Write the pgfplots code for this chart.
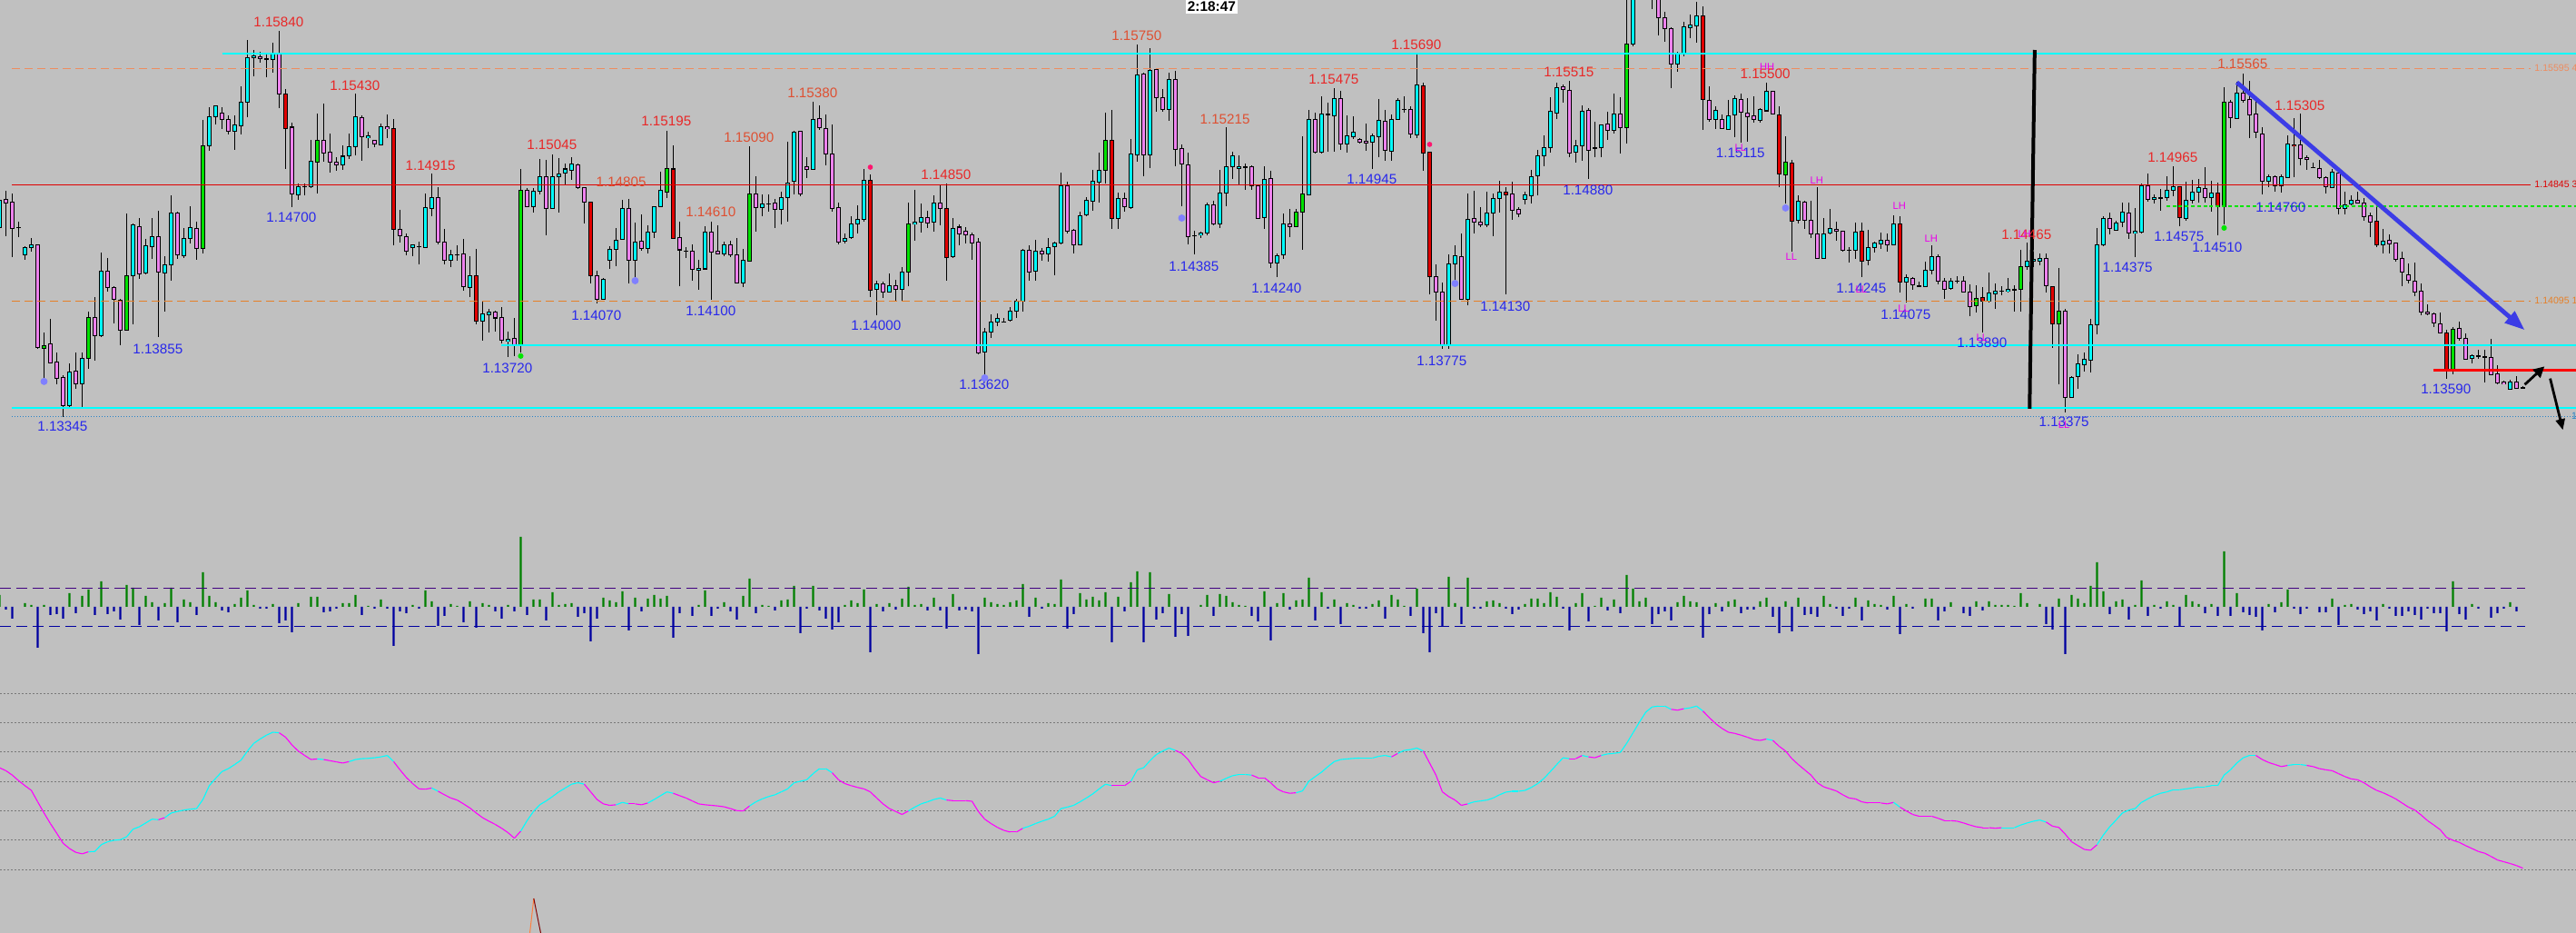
\documentclass[border=0pt]{standalone}
\usepackage{pgfplots}
\pgfplotsset{compat=1.18}
\usepackage{pgfplotstable}
\usepackage{fontspec}
\setmainfont{Liberation Sans}
\usetikzlibrary{arrows.meta}

\definecolor{bg}{RGB}{192,192,192}
\definecolor{cbull}{RGB}{0,255,255}
\definecolor{cbear}{RGB}{238,130,238}
\definecolor{cgreen}{RGB}{0,225,0}
\definecolor{cred}{RGB}{225,0,0}
\definecolor{lvlcyan}{RGB}{0,255,255}
\definecolor{lvlorange}{RGB}{238,140,95}
\definecolor{lvlorange2}{RGB}{230,128,40}
\definecolor{lvlred}{RGB}{222,0,0}
\definecolor{dotblue}{RGB}{40,130,200}
\definecolor{hgreen}{RGB}{0,128,0}
\definecolor{hblue}{RGB}{0,0,160}
\definecolor{hpurple}{RGB}{64,0,128}
\definecolor{labred}{RGB}{232,40,40}
\definecolor{laborange}{RGB}{222,80,50}
\definecolor{labblue}{RGB}{40,40,235}
\definecolor{labmag}{RGB}{235,0,235}
\definecolor{arrblue}{RGB}{60,60,230}
\definecolor{dotviolet}{RGB}{128,128,255}
\definecolor{dotpink}{RGB}{255,20,110}
\definecolor{dotgreen}{RGB}{0,230,0}
\definecolor{gridgray}{RGB}{120,120,120}
\definecolor{oscmag}{RGB}{255,0,255}
\definecolor{osccyan}{RGB}{0,255,255}
\definecolor{spkorange}{RGB}{255,128,64}
\definecolor{spkred}{RGB}{128,0,0}
\pgfplotsset{colormap={ud}{color(0)=(oscmag) color(1)=(osccyan)}}

\newcommand{\labfont}{\fontsize{7.6}{8}\selectfont}
\newcommand{\magfont}{\fontsize{5.6}{6}\selectfont}
\newcommand{\rfont}{\fontsize{5.3}{6}\selectfont}

% candles: index, open, high, low, close, special (1 = signal bar)
\pgfplotstableread{
i o h l c s
-1 1.14571 1.14802 1.14567 1.14747 0
0 1.14751 1.14806 1.14513 1.14727 0
1 1.14733 1.14790 1.14376 1.14565 0
2 1.14571 1.14606 1.14509 1.14568 0
3 1.14390 1.14450 1.14364 1.14440 0
4 1.14440 1.14503 1.14415 1.14458 0
5 1.14458 1.14462 1.13786 1.13796 0
6 1.13790 1.13892 1.13595 1.13810 1
7 1.13819 1.13979 1.13692 1.13696 0
8 1.13702 1.13761 1.13560 1.13599 0
9 1.13599 1.13620 1.13351 1.13419 0
10 1.13419 1.13692 1.13413 1.13638 0
11 1.13644 1.13765 1.13532 1.13560 0
12 1.13560 1.13761 1.13413 1.13726 0
13 1.13726 1.14028 1.13657 1.13989 1
14 1.13989 1.14122 1.13712 1.13872 0
15 1.13872 1.14405 1.13862 1.14288 0
16 1.14288 1.14370 1.14155 1.14185 0
17 1.14185 1.14191 1.13950 1.14106 0
18 1.14102 1.14112 1.13813 1.13907 0
19 1.13907 1.14659 1.13903 1.14259 1
20 1.14259 1.14595 1.13946 1.14585 0
21 1.14575 1.14630 1.14239 1.14272 0
22 1.14278 1.14493 1.14268 1.14450 0
23 1.14444 1.14634 1.14366 1.14513 0
24 1.14513 1.14675 1.13862 1.14282 0
25 1.14278 1.14386 1.14028 1.14331 0
26 1.14331 1.14780 1.14229 1.14663 0
27 1.14663 1.14673 1.14366 1.14395 0
28 1.14390 1.14565 1.14370 1.14499 0
29 1.14499 1.14708 1.14464 1.14571 0
30 1.14565 1.14610 1.14362 1.14435 0
31 1.14435 1.15261 1.14399 1.15095 1
32 1.15099 1.15343 1.15065 1.15284 0
33 1.15284 1.15355 1.15235 1.15352 0
34 1.15308 1.15343 1.15206 1.15268 0
35 1.15268 1.15290 1.15167 1.15192 0
36 1.15190 1.15294 1.15073 1.15235 0
37 1.15226 1.15479 1.15167 1.15378 0
38 1.15378 1.15778 1.15280 1.15665 0
39 1.15665 1.15714 1.15548 1.15679 0
40 1.15671 1.15700 1.15630 1.15661 0
41 1.15659 1.15700 1.15542 1.15657 0
42 1.15653 1.15763 1.15571 1.15688 0
43 1.15688 1.15840 1.15337 1.15431 0
44 1.15431 1.15464 1.14948 1.15206 1
45 1.15216 1.15245 1.14702 1.14786 0
46 1.14780 1.14854 1.14747 1.14835 0
47 1.14835 1.14854 1.14776 1.14833 0
48 1.14831 1.15134 1.14825 1.14997 0
49 1.14991 1.15304 1.14792 1.15132 1
50 1.15132 1.15366 1.14991 1.15050 0
51 1.15056 1.15177 1.14923 1.14991 0
52 1.14991 1.15020 1.14933 1.14972 0
53 1.14977 1.15099 1.14942 1.15030 0
54 1.15030 1.15177 1.15011 1.15089 0
55 1.15089 1.15431 1.15036 1.15284 0
56 1.15280 1.15294 1.15001 1.15155 0
57 1.15147 1.15190 1.15083 1.15161 0
58 1.15132 1.15138 1.15089 1.15108 0
59 1.15102 1.15239 1.15102 1.15220 0
60 1.15220 1.15298 1.15147 1.15206 0
61 1.15206 1.15268 1.14458 1.14558 1
62 1.14558 1.14683 1.14474 1.14513 0
63 1.14513 1.14532 1.14392 1.14419 0
64 1.14440 1.14464 1.14386 1.14458 0
65 1.14448 1.14479 1.14333 1.14446 0
66 1.14440 1.14786 1.14435 1.14698 0
67 1.14692 1.14919 1.14645 1.14763 0
68 1.14763 1.14829 1.14464 1.14474 0
69 1.14474 1.14558 1.14333 1.14360 0
70 1.14360 1.14425 1.14317 1.14392 0
71 1.14395 1.14458 1.14356 1.14393 0
72 1.14399 1.14499 1.14165 1.14190 0
73 1.14185 1.14386 1.14122 1.14259 0
74 1.14259 1.14431 1.13946 1.13966 1
75 1.13966 1.14093 1.13839 1.14011 0
76 1.14009 1.14044 1.13892 1.14024 0
77 1.14024 1.14034 1.13897 1.13985 0
78 1.13989 1.14060 1.13823 1.13843 0
79 1.13835 1.13897 1.13731 1.13849 0
80 1.13853 1.13985 1.13741 1.13813 0
81 1.13813 1.14946 1.13767 1.14810 1
82 1.14810 1.14825 1.14698 1.14704 0
83 1.14704 1.14825 1.14669 1.14802 0
84 1.14802 1.15011 1.14786 1.14897 0
85 1.14897 1.15005 1.14522 1.14692 0
86 1.14692 1.15044 1.14688 1.14897 0
87 1.14897 1.15017 1.14669 1.14913 0
88 1.14919 1.14981 1.14849 1.14948 0
89 1.14938 1.15024 1.14880 1.14977 0
90 1.14972 1.14981 1.14821 1.14825 0
91 1.14825 1.14829 1.14597 1.14733 0
92 1.14733 1.14735 1.14210 1.14259 1
93 1.14259 1.14288 1.14077 1.14106 0
94 1.14106 1.14243 1.14102 1.14235 0
95 1.14360 1.14450 1.14302 1.14429 0
96 1.14429 1.14567 1.14321 1.14487 0
97 1.14493 1.14751 1.14493 1.14692 0
98 1.14692 1.14753 1.14206 1.14360 0
99 1.14360 1.14601 1.14235 1.14479 0
100 1.14479 1.14653 1.14419 1.14435 0
101 1.14435 1.14581 1.14399 1.14542 0
102 1.14542 1.14708 1.14503 1.14702 0
103 1.14702 1.14929 1.14698 1.14810 0
104 1.14800 1.15196 1.14763 1.14948 1
105 1.14948 1.15099 1.14499 1.14501 1
106 1.14503 1.14604 1.14190 1.14425 0
107 1.14419 1.14444 1.14376 1.14417 0
108 1.14415 1.14458 1.14229 1.14298 0
109 1.14294 1.14360 1.14165 1.14308 0
110 1.14302 1.14577 1.14298 1.14538 0
111 1.14542 1.14610 1.14106 1.14411 0
112 1.14419 1.14587 1.14395 1.14401 0
113 1.14399 1.14477 1.14386 1.14458 0
114 1.14458 1.14487 1.14380 1.14395 0
115 1.14392 1.14503 1.14210 1.14214 0
116 1.14210 1.14431 1.14185 1.14356 0
117 1.14352 1.15093 1.14347 1.14786 1
118 1.14786 1.14899 1.14542 1.14698 0
119 1.14698 1.14782 1.14643 1.14722 0
120 1.14724 1.14780 1.14673 1.14722 0
121 1.14727 1.14757 1.14567 1.14688 0
122 1.14688 1.14800 1.14587 1.14763 0
123 1.14763 1.15122 1.14606 1.14860 0
124 1.14868 1.15196 1.14786 1.15186 0
125 1.15190 1.15192 1.14770 1.14786 0
126 1.14962 1.15020 1.14888 1.14946 0
127 1.14942 1.15378 1.14942 1.15268 0
128 1.15274 1.15356 1.15196 1.15216 0
129 1.15210 1.15298 1.14972 1.15044 0
130 1.15044 1.15235 1.14673 1.14692 0
131 1.14698 1.14731 1.14458 1.14477 0
132 1.14479 1.14528 1.14464 1.14499 0
133 1.14503 1.14645 1.14499 1.14591 0
134 1.14591 1.14712 1.14532 1.14624 0
135 1.14624 1.14946 1.14610 1.14874 0
136 1.14874 1.14913 1.14122 1.14165 1
137 1.14171 1.14224 1.14005 1.14206 0
138 1.14206 1.14220 1.14116 1.14155 0
139 1.14155 1.14272 1.14151 1.14194 0
140 1.14194 1.14229 1.14089 1.14171 0
141 1.14171 1.14317 1.14093 1.14282 0
142 1.14282 1.14731 1.14190 1.14591 1
143 1.14591 1.14811 1.14483 1.14604 0
144 1.14604 1.14727 1.14536 1.14634 0
145 1.14634 1.14679 1.14567 1.14601 0
146 1.14601 1.14776 1.14542 1.14727 0
147 1.14727 1.14845 1.14581 1.14692 0
148 1.14692 1.14854 1.14224 1.14376 1
149 1.14380 1.14630 1.14376 1.14561 0
150 1.14571 1.14591 1.14458 1.14528 0
151 1.14546 1.14571 1.14468 1.14522 0
152 1.14522 1.14536 1.14362 1.14470 0
153 1.14474 1.14503 1.13755 1.13761 0
154 1.13767 1.13921 1.13614 1.13897 0
155 1.13897 1.14009 1.13858 1.13960 0
156 1.13960 1.14015 1.13931 1.13985 0
157 1.13962 1.13985 1.13956 1.13960 0
158 1.13970 1.14054 1.13962 1.14028 0
159 1.14028 1.14112 1.13985 1.14093 0
160 1.14093 1.14431 1.14028 1.14425 0
161 1.14425 1.14458 1.14224 1.14282 0
162 1.14288 1.14493 1.14229 1.14419 0
163 1.14419 1.14438 1.14356 1.14399 0
164 1.14399 1.14503 1.14347 1.14438 0
165 1.14444 1.14479 1.14263 1.14470 0
166 1.14470 1.14927 1.14464 1.14841 0
167 1.14841 1.14868 1.14532 1.14546 0
168 1.14552 1.14561 1.14405 1.14458 0
169 1.14458 1.14669 1.14454 1.14649 0
170 1.14649 1.14767 1.14640 1.14747 0
171 1.14741 1.14942 1.14679 1.14868 0
172 1.14864 1.15050 1.14731 1.14936 0
173 1.14936 1.15308 1.14854 1.15132 1
174 1.15132 1.15327 1.14561 1.14630 1
175 1.14630 1.14796 1.14561 1.14757 0
176 1.14757 1.14796 1.14669 1.14702 0
177 1.14698 1.15143 1.14688 1.15044 0
178 1.15040 1.15749 1.14995 1.15552 0
179 1.15561 1.15567 1.14903 1.15040 0
180 1.15040 1.15724 1.14952 1.15581 0
181 1.15587 1.15597 1.15317 1.15407 0
182 1.15407 1.15466 1.15317 1.15329 0
183 1.15333 1.15567 1.15259 1.15524 0
184 1.15524 1.15577 1.14962 1.15073 0
185 1.15079 1.15102 1.14708 1.14981 0
186 1.14972 1.15050 1.14458 1.14513 0
187 1.14517 1.14548 1.14395 1.14515 0
188 1.14522 1.14542 1.14503 1.14532 0
189 1.14532 1.14731 1.14522 1.14714 0
190 1.14714 1.14743 1.14587 1.14591 0
191 1.14591 1.14942 1.14567 1.14792 0
192 1.14792 1.15216 1.14708 1.14962 0
193 1.14962 1.15059 1.14880 1.15030 0
194 1.14952 1.15036 1.14841 1.14962 0
195 1.14962 1.14981 1.14815 1.14960 0
196 1.14962 1.14968 1.14810 1.14841 0
197 1.14841 1.14843 1.14626 1.14630 0
198 1.14634 1.14966 1.14561 1.14880 0
199 1.14884 1.14938 1.14311 1.14341 0
200 1.14341 1.14405 1.14249 1.14390 0
201 1.14395 1.14659 1.14366 1.14591 0
202 1.14591 1.14692 1.14509 1.14575 0
203 1.14575 1.14692 1.14571 1.14669 1
204 1.14669 1.15157 1.14425 1.14786 1
205 1.14780 1.15327 1.14776 1.15265 0
206 1.15265 1.15308 1.15046 1.15054 0
207 1.15056 1.15415 1.15050 1.15300 0
208 1.15298 1.15376 1.15059 1.15296 0
209 1.15290 1.15470 1.15059 1.15401 0
210 1.15401 1.15450 1.15069 1.15108 0
211 1.15108 1.15294 1.15050 1.15161 0
212 1.15157 1.15288 1.15142 1.15181 0
213 1.15138 1.15147 1.15114 1.15118 0
214 1.15128 1.15239 1.15065 1.15114 0
215 1.15122 1.15177 1.14948 1.15161 0
216 1.15157 1.15401 1.15024 1.15261 0
217 1.15255 1.15329 1.14997 1.15069 0
218 1.15063 1.15298 1.15001 1.15268 0
219 1.15265 1.15405 1.15265 1.15392 0
220 1.15333 1.15415 1.15309 1.15331 0
221 1.15333 1.15352 1.15147 1.15173 0
222 1.15167 1.15688 1.15147 1.15489 0
223 1.15483 1.15503 1.14933 1.15050 1
224 1.15054 1.15059 1.14136 1.14253 1
225 1.14253 1.14331 1.13966 1.14155 0
226 1.14151 1.14214 1.13786 1.13815 0
227 1.13815 1.14399 1.13790 1.14333 0
228 1.14333 1.14458 1.14210 1.14386 0
229 1.14380 1.14532 1.14102 1.14106 0
230 1.14106 1.14786 1.14067 1.14620 0
231 1.14626 1.14806 1.14528 1.14604 0
232 1.14604 1.14702 1.14571 1.14587 0
233 1.14587 1.14802 1.14571 1.14663 0
234 1.14663 1.14792 1.14513 1.14757 0
235 1.14757 1.14874 1.14669 1.14800 0
236 1.14800 1.14829 1.14138 1.14782 1
237 1.14786 1.14864 1.14620 1.14683 0
238 1.14685 1.14704 1.14634 1.14655 0
239 1.14751 1.14802 1.14718 1.14780 0
240 1.14776 1.14942 1.14727 1.14897 0
241 1.14903 1.15073 1.14776 1.15030 0
242 1.15030 1.15163 1.14962 1.15083 0
243 1.15083 1.15407 1.15050 1.15319 0
244 1.15309 1.15505 1.15270 1.15470 0
245 1.15479 1.15489 1.15372 1.15460 0
246 1.15454 1.15513 1.15024 1.15050 0
247 1.15056 1.15138 1.14991 1.15099 0
248 1.15099 1.15356 1.15001 1.15319 0
249 1.15323 1.15343 1.14884 1.15069 0
250 1.15083 1.15251 1.15024 1.15081 0
251 1.15083 1.15235 1.15024 1.15231 0
252 1.15235 1.15317 1.15134 1.15196 0
253 1.15196 1.15431 1.15173 1.15300 0
254 1.15300 1.15407 1.15044 1.15216 0
255 1.15216 1.16080 1.15114 1.15753 1
256 1.15753 1.16170 1.15740 1.16120 0
257 1.16120 1.16260 1.16060 1.16200 0
258 1.16200 1.16280 1.16080 1.16150 0
259 1.16150 1.16230 1.15977 1.16090 0
260 1.16090 1.16150 1.15806 1.15923 0
261 1.15923 1.15960 1.15768 1.15850 0
262 1.15850 1.15864 1.15470 1.15622 0
263 1.15622 1.15704 1.15573 1.15688 0
264 1.15688 1.15895 1.15675 1.15864 0
265 1.15856 1.15942 1.15792 1.15876 0
266 1.15870 1.16026 1.15763 1.15934 0
267 1.15934 1.15993 1.15200 1.15395 1
268 1.15388 1.15479 1.15255 1.15268 0
269 1.15268 1.15352 1.15206 1.15323 0
270 1.15265 1.15298 1.15206 1.15210 0
271 1.15202 1.15392 1.15202 1.15290 0
272 1.15298 1.15421 1.15153 1.15401 0
273 1.15395 1.15431 1.15118 1.15313 0
274 1.15308 1.15407 1.15122 1.15284 0
275 1.15288 1.15415 1.15245 1.15268 0
276 1.15259 1.15339 1.15245 1.15329 0
277 1.15323 1.15505 1.15317 1.15450 0
278 1.15450 1.15454 1.15298 1.15300 0
279 1.15294 1.15349 1.14829 1.14913 1
280 1.14909 1.15157 1.14724 1.14991 1
281 1.14985 1.15005 1.14415 1.14610 1
282 1.14616 1.14776 1.14597 1.14741 0
283 1.14731 1.14743 1.14561 1.14616 0
284 1.14616 1.14743 1.14503 1.14526 0
285 1.14528 1.14829 1.14366 1.14370 0
286 1.14370 1.14634 1.14366 1.14528 0
287 1.14532 1.14692 1.14528 1.14565 0
288 1.14561 1.14610 1.14483 1.14546 0
289 1.14546 1.14548 1.14415 1.14425 0
290 1.14425 1.14444 1.14341 1.14423 0
291 1.14425 1.14604 1.14366 1.14542 0
292 1.14546 1.14601 1.14253 1.14352 1
293 1.14356 1.14552 1.14327 1.14438 0
294 1.14440 1.14477 1.14405 1.14470 0
295 1.14464 1.14538 1.14435 1.14487 0
296 1.14487 1.14532 1.14415 1.14458 0
297 1.14458 1.14645 1.14454 1.14591 0
298 1.14591 1.14645 1.14151 1.14220 1
299 1.14220 1.14268 1.14083 1.14249 0
300 1.14243 1.14249 1.14171 1.14200 0
301 1.14192 1.14220 1.14185 1.14190 0
302 1.14190 1.14347 1.14185 1.14294 0
303 1.14292 1.14454 1.14268 1.14380 0
304 1.14380 1.14399 1.14200 1.14226 0
305 1.14224 1.14243 1.14112 1.14171 0
306 1.14175 1.14243 1.14171 1.14224 0
307 1.14224 1.14255 1.14210 1.14222 0
308 1.14224 1.14259 1.14151 1.14153 0
309 1.14151 1.14204 1.13995 1.14060 0
310 1.14064 1.14200 1.14024 1.14112 1
311 1.14116 1.14185 1.13892 1.14093 1
312 1.14093 1.14278 1.14087 1.14146 0
313 1.14142 1.14210 1.14044 1.14157 0
314 1.14161 1.14191 1.14132 1.14159 0
315 1.14157 1.14243 1.14151 1.14171 0
316 1.14171 1.14200 1.14028 1.14169 0
317 1.14171 1.14425 1.14028 1.14317 1
318 1.14317 1.14470 1.14298 1.14352 0
319 1.14352 1.14415 1.14317 1.14366 0
320 1.14352 1.14405 1.14327 1.14370 0
321 1.14370 1.14399 1.14151 1.14194 0
322 1.14190 1.14192 1.13794 1.13950 1
323 1.13950 1.14308 1.13560 1.14030 1
324 1.14030 1.14044 1.13375 1.13472 0
325 1.13472 1.13614 1.13468 1.13605 0
326 1.13605 1.13751 1.13530 1.13687 0
327 1.13687 1.13761 1.13638 1.13718 0
328 1.13712 1.13979 1.13634 1.13942 0
329 1.13942 1.14567 1.13882 1.14458 0
330 1.14458 1.14640 1.14450 1.14630 0
331 1.14630 1.14663 1.14526 1.14565 0
332 1.14552 1.14614 1.14548 1.14601 0
333 1.14601 1.14731 1.14571 1.14669 0
334 1.14663 1.14731 1.14497 1.14532 0
335 1.14532 1.14692 1.14380 1.14546 0
336 1.14542 1.14854 1.14532 1.14841 0
337 1.14841 1.14917 1.14737 1.14753 0
338 1.14751 1.14786 1.14727 1.14763 0
339 1.14761 1.14815 1.14675 1.14759 0
340 1.14763 1.14897 1.14743 1.14810 0
341 1.14810 1.14966 1.14770 1.14829 0
342 1.14829 1.14831 1.14581 1.14630 1
343 1.14626 1.14864 1.14610 1.14747 0
344 1.14747 1.14874 1.14727 1.14800 0
345 1.14800 1.14884 1.14731 1.14829 0
346 1.14821 1.14958 1.14731 1.14763 0
347 1.14763 1.14868 1.14673 1.14792 0
348 1.14792 1.14858 1.14517 1.14702 1
349 1.14702 1.15474 1.14591 1.15378 1
350 1.15378 1.15395 1.15212 1.15278 0
351 1.15274 1.15509 1.15270 1.15436 0
352 1.15436 1.15565 1.15372 1.15392 0
353 1.15392 1.15518 1.15147 1.15294 0
354 1.15300 1.15386 1.15147 1.15183 0
355 1.15173 1.15216 1.14780 1.14868 0
356 1.14868 1.14909 1.14831 1.14897 0
357 1.14897 1.14909 1.14802 1.14841 0
358 1.14841 1.14913 1.14796 1.14897 0
359 1.14893 1.15163 1.14889 1.15108 0
360 1.15104 1.15278 1.14893 1.15095 1
361 1.15102 1.15304 1.14972 1.15017 0
362 1.15024 1.15036 1.14942 1.15011 0
363 1.14958 1.14991 1.14952 1.14956 0
364 1.14948 1.15007 1.14884 1.14890 0
365 1.14890 1.14899 1.14786 1.14831 0
366 1.14829 1.14946 1.14821 1.14927 0
367 1.14923 1.14927 1.14653 1.14692 0
368 1.14692 1.14802 1.14653 1.14714 0
369 1.14722 1.14780 1.14712 1.14747 0
370 1.14747 1.14800 1.14722 1.14727 0
371 1.14727 1.14757 1.14610 1.14640 0
372 1.14645 1.14663 1.14509 1.14604 0
373 1.14610 1.14712 1.14444 1.14458 1
374 1.14458 1.14561 1.14405 1.14479 0
375 1.14487 1.14528 1.14405 1.14464 0
376 1.14468 1.14474 1.14352 1.14362 0
377 1.14370 1.14411 1.14190 1.14282 0
378 1.14268 1.14337 1.14210 1.14229 0
379 1.14224 1.14341 1.14126 1.14155 0
380 1.14157 1.14206 1.14005 1.14024 0
381 1.14024 1.14073 1.14001 1.14015 0
382 1.14011 1.14019 1.13927 1.13956 0
383 1.13952 1.14019 1.13888 1.13892 0
384 1.13892 1.13911 1.13595 1.13650 1
385 1.13650 1.13927 1.13620 1.13913 1
386 1.13921 1.13962 1.13839 1.13853 0
387 1.13853 1.13888 1.13716 1.13722 0
388 1.13726 1.13755 1.13692 1.13745 0
389 1.13741 1.13780 1.13722 1.13739 0
390 1.13737 1.13780 1.13571 1.13735 0
391 1.13731 1.13849 1.13614 1.13618 0
392 1.13624 1.13683 1.13560 1.13566 0
393 1.13571 1.13581 1.13556 1.13560 0
394 1.13527 1.13585 1.13521 1.13571 0
395 1.13571 1.13610 1.13527 1.13532 0
396 1.13536 1.13546 1.13527 1.13534 0
}\candles

% histogram (signed bar height)
\pgfplotstableread{
i v
-1 13
0 -3
1 -13
2 0
3 4
4 2
5 -45
6 2
7 -9
8 -8
9 -13
10 15
11 -7
12 12
13 19
14 -9
15 28
16 -8
17 -5
18 -14
19 24
20 21
21 -20
22 12
23 5
24 -15
25 4
26 21
27 -17
28 8
29 5
30 -9
31 38
32 12
33 5
34 -4
35 -6
36 3
37 10
38 18
39 2
40 -2
41 -2
42 3
43 -18
44 -15
45 -28
46 4
47 0
48 11
49 11
50 -6
51 -5
52 -2
53 4
54 4
55 13
56 -9
57 1
58 -2
59 8
60 -2
61 -43
62 -5
63 -7
64 2
65 -2
66 18
67 6
68 -21
69 -10
70 3
71 1
72 -17
73 6
74 -23
75 4
76 2
77 -5
78 -13
79 2
80 -5
81 77
82 -9
83 8
84 8
85 -15
86 16
87 2
88 3
89 4
90 -11
91 -7
92 -38
93 -13
94 10
95 7
96 5
97 17
98 -26
99 10
100 -5
101 9
102 13
103 9
104 12
105 -34
106 -7
107 0
108 -10
109 2
110 18
111 -10
112 -2
113 5
114 -5
115 -14
116 12
117 31
118 -7
119 2
120 1
121 -4
122 7
123 8
124 23
125 -29
126 -2
127 23
128 -4
129 -13
130 -25
131 -17
132 2
133 7
134 4
135 19
136 -50
137 3
138 -5
139 4
140 -3
141 9
142 22
143 2
144 3
145 -4
146 10
147 -4
148 -24
149 14
150 -4
151 -3
152 -5
153 -52
154 10
155 5
156 3
157 2
158 5
159 7
160 25
161 -11
162 10
163 -2
164 4
165 3
166 30
167 -24
168 -8
169 15
170 8
171 11
172 7
173 16
174 -39
175 11
176 -5
177 27
178 39
179 -39
180 38
181 -14
182 -7
183 14
184 -33
185 -8
186 -32
187 0
188 2
189 13
190 -10
191 14
192 12
193 5
194 2
195 1
196 -10
197 -16
198 17
199 -37
200 4
201 15
202 -3
203 7
204 8
205 32
206 -15
207 16
208 -2
209 8
210 -19
211 4
212 2
213 -2
214 -2
215 3
216 7
217 -13
218 13
219 8
220 1
221 -10
222 20
223 -29
224 -50
225 -7
226 -21
227 33
228 4
229 -19
230 32
231 -2
232 -2
233 6
234 7
235 4
236 -2
237 -8
238 -3
239 3
240 9
241 9
242 4
243 16
244 11
245 -2
246 -26
247 4
248 15
249 -16
250 1
251 10
252 -4
253 8
254 -7
255 35
256 20
257 6
258 10
259 -19
260 -8
261 -5
262 -15
263 5
264 12
265 6
266 5
267 -34
268 -8
269 4
270 -5
271 6
272 8
273 -7
274 -3
275 -3
276 6
277 10
278 -11
279 -29
280 6
281 -27
282 10
283 -9
284 -8
285 -11
286 12
287 3
288 -2
289 -10
290 -2
291 10
292 -15
293 7
294 3
295 2
296 -3
297 12
298 -30
299 3
300 -2
301 0
302 9
303 9
304 -15
305 -5
306 5
307 0
308 -7
309 -10
310 6
311 -4
312 6
313 2
314 2
315 2
316 1
317 15
318 4
319 0
320 3
321 -19
322 -25
323 9
324 -52
325 13
326 9
327 4
328 23
329 49
330 17
331 -8
332 6
333 8
334 -14
335 2
336 29
337 -10
338 2
339 -2
340 6
341 2
342 -21
343 13
344 6
345 3
346 -7
347 3
348 -10
349 61
350 -10
351 15
352 -6
353 -9
354 -11
355 -26
356 3
357 -6
358 5
359 19
360 -2
361 -8
362 -2
363 0
364 -6
365 -6
366 9
367 -20
368 2
369 3
370 -3
371 -8
372 -5
373 -15
374 3
375 -2
376 -10
377 -10
378 -5
379 -9
380 -14
381 -2
382 -7
383 -7
384 -27
385 28
386 -8
387 -14
388 3
389 -2
390 0
391 -12
392 -7
393 -2
394 5
395 -5
396 0
}\hist

% oscillator value and direction (1 rising, 0 falling)
\pgfplotstableread{
i v d
-1 54.7 0
0 53.7 0
1 52.2 0
2 50.3 0
3 48.6 0
4 47.0 0
5 43.1 0
6 39.3 0
7 35.7 0
8 32.4 0
9 29.0 0
10 27.2 0
11 25.9 0
12 25.4 0
13 26.1 1
14 26.2 1
15 28.5 1
16 29.5 1
17 30.0 1
18 30.2 1
19 31.2 1
20 33.8 1
21 34.6 1
22 35.9 1
23 37.2 1
24 37.0 0
25 37.7 1
26 39.3 1
27 39.8 1
28 40.3 1
29 40.6 1
30 40.8 1
31 43.9 1
32 48.6 1
33 51.1 1
34 53.4 1
35 54.4 1
36 55.8 1
37 57.3 1
38 60.4 1
39 63.0 1
40 64.5 1
41 65.8 1
42 66.8 1
43 66.6 0
44 65.1 0
45 62.5 0
46 60.4 0
47 58.9 0
48 57.5 0
49 57.7 1
50 57.5 0
51 57.1 0
52 56.7 0
53 56.3 0
54 56.8 1
55 57.5 1
56 57.8 1
57 57.9 1
58 58.1 1
59 58.4 1
60 58.9 1
61 56.8 0
62 54.0 0
63 51.4 0
64 49.3 0
65 47.5 0
66 47.4 0
67 47.8 1
68 46.7 0
69 45.5 0
70 44.4 0
71 43.7 0
72 42.4 0
73 41.0 0
74 39.3 0
75 37.7 0
76 36.5 0
77 35.4 0
78 34.1 0
79 32.6 0
80 30.7 0
81 33.1 1
82 36.7 1
83 39.8 1
84 42.1 1
85 43.4 1
86 44.9 1
87 46.5 1
88 47.8 1
89 49.1 1
90 49.6 1
91 49.1 0
92 46.5 0
93 43.9 0
94 42.4 0
95 41.9 0
96 42.1 1
97 42.9 1
98 42.4 0
99 42.4 0
100 42.1 0
101 42.7 1
102 43.9 1
103 45.2 1
104 46.5 1
105 46.0 0
106 45.2 0
107 44.4 0
108 43.4 0
109 42.4 0
110 42.1 0
111 41.9 0
112 41.7 0
113 41.4 0
114 40.8 0
115 40.1 0
116 40.0 0
117 41.7 1
118 43.1 1
119 44.1 1
120 44.9 1
121 45.5 1
122 46.5 1
123 47.5 1
124 49.6 1
125 50.1 1
126 50.6 1
127 52.7 1
128 54.4 1
129 54.4 1
130 53.0 0
131 50.6 0
132 49.3 0
133 48.6 0
134 48.0 0
135 47.5 0
136 46.5 0
137 44.4 0
138 42.4 0
139 40.8 0
140 39.8 0
141 38.8 0
142 40.0 1
143 41.3 1
144 42.4 1
145 43.1 1
146 43.9 1
147 44.4 1
148 43.7 0
149 43.5 0
150 43.5 0
151 43.5 0
152 43.3 0
153 39.8 0
154 37.2 0
155 35.7 0
156 34.4 0
157 33.4 0
158 32.8 0
159 32.8 0
160 34.1 1
161 34.8 1
162 35.7 1
163 36.5 1
164 37.2 1
165 38.2 1
166 40.8 1
167 41.3 1
168 41.9 1
169 43.1 1
170 44.4 1
171 45.8 1
172 47.5 1
173 49.1 1
174 48.6 0
175 48.6 0
176 48.6 0
177 50.1 1
178 54.0 1
179 54.7 1
180 57.1 1
181 59.2 1
182 60.4 1
183 61.4 1
184 60.6 0
185 59.6 0
186 57.5 0
187 54.4 0
188 51.7 0
189 50.6 0
190 49.6 0
191 50.1 1
192 51.1 1
193 52.0 1
194 52.4 1
195 52.4 1
196 52.2 0
197 51.3 0
198 51.3 0
199 49.6 0
200 47.5 0
201 46.5 0
202 46.0 0
203 46.2 1
204 46.8 1
205 50.1 1
206 51.7 1
207 53.2 1
208 55.1 1
209 56.8 1
210 57.5 1
211 57.7 1
212 57.9 1
213 58.0 1
214 58.0 1
215 58.0 1
216 58.6 1
217 58.9 1
218 58.4 0
219 59.6 1
220 60.6 1
221 60.9 1
222 61.4 1
223 60.4 0
224 56.3 0
225 52.2 0
226 46.5 0
227 44.9 0
228 43.7 0
229 41.9 0
230 42.4 1
231 43.1 1
232 43.4 1
233 43.7 1
234 44.4 1
235 45.5 1
236 46.4 1
237 46.7 1
238 46.7 1
239 47.0 1
240 48.0 1
241 49.3 1
242 51.1 1
243 53.4 1
244 55.8 1
245 58.1 1
246 57.8 0
247 57.8 0
248 58.9 1
249 58.4 0
250 58.1 0
251 58.9 1
252 59.4 1
253 59.6 1
254 59.9 1
255 63.0 1
256 66.6 1
257 70.2 1
258 73.6 1
259 75.4 1
260 75.7 1
261 75.7 1
262 74.6 0
263 74.3 0
264 74.8 1
265 75.1 1
266 75.7 1
267 74.0 0
268 71.8 0
269 69.7 0
270 68.1 0
271 66.8 0
272 66.4 0
273 65.8 0
274 65.1 0
275 64.3 0
276 64.0 0
277 64.5 1
278 64.0 0
279 62.0 0
280 60.4 0
281 57.8 0
282 55.8 0
283 54.0 0
284 52.2 0
285 49.6 0
286 48.2 0
287 47.5 0
288 46.8 0
289 45.5 0
290 44.4 0
291 44.1 0
292 43.1 0
293 42.7 0
294 42.7 0
295 42.7 0
296 42.4 0
297 42.9 1
298 41.3 0
299 40.0 0
300 38.8 0
301 38.2 0
302 38.2 0
303 38.2 0
304 37.5 0
305 36.7 0
306 36.7 0
307 36.5 0
308 35.9 0
309 35.2 0
310 34.6 0
311 34.3 0
312 34.3 0
313 34.1 0
314 34.3 1
315 34.3 1
316 34.3 1
317 35.2 1
318 35.9 1
319 36.5 1
320 36.9 1
321 36.2 0
322 34.8 0
323 34.4 0
324 32.1 0
325 29.5 0
326 28.2 0
327 26.9 0
328 26.6 0
329 28.5 1
330 31.8 1
331 34.6 1
332 36.9 1
333 39.3 1
334 40.3 1
335 40.8 1
336 42.9 1
337 44.1 1
338 45.2 1
339 46.0 1
340 46.5 1
341 47.2 1
342 47.2 1
343 47.5 1
344 47.8 1
345 48.2 1
346 48.2 1
347 48.6 1
348 48.6 1
349 52.2 1
350 54.0 1
351 56.3 1
352 58.1 1
353 58.9 1
354 58.9 0
355 57.5 0
356 56.5 0
357 55.8 0
358 55.1 0
359 55.5 1
360 55.8 1
361 55.8 1
362 55.5 0
363 55.1 0
364 54.4 0
365 54.0 0
366 53.7 0
367 52.7 0
368 51.7 0
369 50.9 0
370 50.6 0
371 49.6 0
372 48.2 0
373 47.0 0
374 46.2 0
375 45.2 0
376 44.1 0
377 42.7 0
378 41.3 0
379 40.3 0
380 38.6 0
381 36.7 0
382 35.2 0
383 33.6 0
384 31.0 0
385 30.0 0
386 29.3 0
387 28.2 0
388 27.2 0
389 26.2 0
390 25.6 0
391 24.5 0
392 23.3 0
393 22.7 0
394 22.1 0
395 21.4 0
396 20.5 0
}\osc

\pgfplotsset{
  chartx/.style={width=1418.5pt, scale only axis, anchor=south west,
    xmin=-0.92857, xmax=404.35714, hide axis, clip=true},
  bars/.style={draw=none, mark=none, error bars/.cd, y dir=both, y explicit, error mark=none},
}

\begin{document}
\begin{tikzpicture}
\fill[bg] (0,0) rectangle (1418.5pt,513.5pt);

% ---------- bottom strip ----------
\begin{axis}[chartx, at={(0pt,0pt)}, height=23.5pt, ymin=0, ymax=47]
\addplot[spkorange, line width=0.5pt] coordinates {(82.4,-2) (83.05,38)};
\addplot[spkred, line width=0.5pt] coordinates {(83.05,38) (84.2,-2)};
\end{axis}

% ---------- oscillator ----------
\begin{axis}[chartx, at={(0pt,18.685pt)}, height=129.333pt, ymin=10, ymax=90]
\pgfplotsinvokeforeach{20,30,40,50,60,70,80}{
  \addplot[gridgray, line width=0.5pt, dash pattern=on 1pt off 1pt] coordinates {(-0.93,#1) (404.36,#1)};
}
\addplot[mesh, shader=flat corner, colormap name=ud, point meta=\thisrow{d},
  point meta min=0, point meta max=1, line width=0.55pt] table[x=i, y=v] {\osc};
\end{axis}

% ---------- histogram ----------
\begin{axis}[chartx, at={(0pt,133.5pt)}, height=110pt, ymin=-92, ymax=128]
\addplot[ybar, bar width=1.2pt, bar shift=0pt, fill=hgreen, draw=none,
  y filter/.expression={y>0 ? y : nan}] table[x=i, y=v] {\hist};
\addplot[ybar, bar width=1.2pt, bar shift=0pt, fill=hblue, draw=none,
  y filter/.expression={y<0 ? y : nan}] table[x=i, y=v] {\hist};
\addplot[hpurple, line width=0.65pt, dash pattern=on 6pt off 3pt] coordinates {(-0.93,20.7) (396.3,20.7)};
\addplot[hblue, line width=0.65pt, dash pattern=on 6pt off 3pt] coordinates {(-0.93,-21.3) (396.3,-21.3)};
\end{axis}

% ---------- price ----------
\begin{axis}[chartx, at={(0pt,273.5pt)}, height=240pt, ymin=1.132239, ymax=1.160364]
% wicks
\addplot[bars, error bar style={line width=0.5pt, draw=black}]
  table[x=i, y expr={(\thisrow{h}+\thisrow{l})/2}, y error expr={(\thisrow{h}-\thisrow{l})/2}] {\candles};
% body outlines
\addplot[bars, error bar style={line width=2.2pt, draw=black}]
  table[x=i, y expr={(\thisrow{o}+\thisrow{c})/2}, y error expr={abs(\thisrow{o}-\thisrow{c})/2+0.00003}] {\candles};
% body fills: code = (close>open) + 2*special : 0 bear, 1 bull, 2 red, 3 green
\addplot[draw=none, mark=none,
  x filter/.expression={((\thisrow{c}>\thisrow{o})+2*\thisrow{s})==0 ? x : nan},
  error bars/.cd, y dir=both, y explicit, error mark=none, error bar style={line width=1.2pt, draw=cbear}]
  table[x=i, y expr={(\thisrow{o}+\thisrow{c})/2}, y error expr={max(abs(\thisrow{o}-\thisrow{c})/2-0.00003,0)}] {\candles};
\addplot[draw=none, mark=none,
  x filter/.expression={((\thisrow{c}>\thisrow{o})+2*\thisrow{s})==1 ? x : nan},
  error bars/.cd, y dir=both, y explicit, error mark=none, error bar style={line width=1.2pt, draw=cbull}]
  table[x=i, y expr={(\thisrow{o}+\thisrow{c})/2}, y error expr={max(abs(\thisrow{o}-\thisrow{c})/2-0.00003,0)}] {\candles};
\addplot[draw=none, mark=none,
  x filter/.expression={((\thisrow{c}>\thisrow{o})+2*\thisrow{s})==2 ? x : nan},
  error bars/.cd, y dir=both, y explicit, error mark=none, error bar style={line width=1.2pt, draw=cred}]
  table[x=i, y expr={(\thisrow{o}+\thisrow{c})/2}, y error expr={max(abs(\thisrow{o}-\thisrow{c})/2-0.00003,0)}] {\candles};
\addplot[draw=none, mark=none,
  x filter/.expression={((\thisrow{c}>\thisrow{o})+2*\thisrow{s})==3 ? x : nan},
  error bars/.cd, y dir=both, y explicit, error mark=none, error bar style={line width=1.2pt, draw=cgreen}]
  table[x=i, y expr={(\thisrow{o}+\thisrow{c})/2}, y error expr={max(abs(\thisrow{o}-\thisrow{c})/2-0.00003,0)}] {\candles};

% levels
\addplot[lvlorange, line width=0.6pt, dash pattern=on 4.5pt off 2.5pt] coordinates {(0.93,1.15595) (397.2,1.15595)};
\addplot[lvlorange2, line width=0.6pt, dash pattern=on 4.5pt off 2.5pt] coordinates {(0.93,1.14095) (397.2,1.14095)};
\addplot[lvlred, line width=0.5pt] coordinates {(0.93,1.14845) (397.2,1.14845)};
\addplot[dotblue, line width=0.5pt, dash pattern=on 0.5pt off 1pt] coordinates {(0.93,1.13351) (404.4,1.13351)};
\addplot[lvlcyan, line width=1.2pt] coordinates {(34.07,1.15692) (404.4,1.15692)};
\addplot[lvlcyan, line width=1.2pt] coordinates {(77.9,1.13810) (404.4,1.13810)};
\addplot[lvlcyan, line width=1.2pt] coordinates {(0.93,1.13407) (404.4,1.13407)};
\addplot[dotgreen, line width=1pt, dash pattern=on 2pt off 1.4pt] coordinates {(339.9,1.14708) (404.4,1.14708)};
\addplot[red, line width=1.5pt] coordinates {(381.9,1.13649) (404.4,1.13649)};
% trend lines and arrows
\addplot[black, line width=2pt] coordinates {(319.2,1.15714) (318.4,1.13400)};
\addplot[arrblue, line width=2.4pt, -{Triangle[length=11pt,width=8pt]}] coordinates {(351.0,1.15505) (396.3,1.13908)};
\addplot[black, line width=1.4pt, -{Triangle[length=6pt,width=6pt]}] coordinates {(396.3,1.13556) (399.4,1.13673)};
\addplot[black, line width=1.4pt, -{Triangle[length=6pt,width=5pt]}] coordinates {(400.3,1.13595) (402.3,1.13263)};
% swing dots
\addplot[only marks, mark=*, mark size=1.75pt, mark options={draw=dotviolet, fill=dotviolet}] coordinates {
(6,1.13576) (99,1.14226) (154,1.13599) (185,1.14630) (228,1.14208) (280,1.14695)};
\addplot[only marks, mark=*, mark size=1.2pt, mark options={draw=dotpink, fill=dotpink}] coordinates {
(136,1.14958) (224,1.15105)};
\addplot[only marks, mark=*, mark size=1.3pt, mark options={draw=dotgreen, fill=dotgreen}] coordinates {
(81,1.13740) (349,1.14566)};

% swing labels
\begin{scope}[every node/.style={font=\labfont, inner sep=0pt}]
\node[text=labred] at (axis cs:42.9,1.15896) {1.15840};
\node[text=labred] at (axis cs:54.9,1.15486) {1.15430};
\node[text=labred] at (axis cs:66.8,1.14970) {1.14915};
\node[text=labred] at (axis cs:85.9,1.15105) {1.15045};
\node[text=labred] at (axis cs:103.9,1.15257) {1.15195};
\node[text=laborange] at (axis cs:96.8,1.14865) {1.14805};
\node[text=laborange] at (axis cs:116.9,1.15152) {1.15090};
\node[text=laborange] at (axis cs:110.9,1.14671) {1.14610};
\node[text=laborange] at (axis cs:126.9,1.15439) {1.15380};
\node[text=labred] at (axis cs:147.9,1.14911) {1.14850};
\node[text=laborange] at (axis cs:177.9,1.15808) {1.15750};
\node[text=laborange] at (axis cs:191.8,1.15269) {1.15215};
\node[text=labred] at (axis cs:208.9,1.15527) {1.15475};
\node[text=labred] at (axis cs:221.9,1.15749) {1.15690};
\node[text=labred] at (axis cs:245.9,1.15574) {1.15515};
\node[text=labred] at (axis cs:276.8,1.15562) {1.15500};
\node[text=labred] at (axis cs:317.9,1.14525) {1.14465};
\node[text=labred] at (axis cs:340.9,1.15023) {1.14965};
\node[text=laborange] at (axis cs:351.9,1.15626) {1.15565};
\node[text=labred] at (axis cs:360.9,1.15357) {1.15305};
\node[text=labblue] at (axis cs:44.9,1.14636) {1.14700};
\node[text=labblue] at (axis cs:23.9,1.13786) {1.13855};
\node[text=labblue] at (axis cs:8.9,1.13288) {1.13345};
\node[text=labblue] at (axis cs:78.9,1.13663) {1.13720};
\node[text=labblue] at (axis cs:92.9,1.14003) {1.14070};
\node[text=labblue] at (axis cs:110.9,1.14033) {1.14100};
\node[text=labblue] at (axis cs:136.9,1.13939) {1.14000};
\node[text=labblue] at (axis cs:153.9,1.13558) {1.13620};
\node[text=labblue] at (axis cs:186.9,1.14320) {1.14385};
\node[text=labblue] at (axis cs:199.9,1.14179) {1.14240};
\node[text=labblue] at (axis cs:214.9,1.14882) {1.14945};
\node[text=labblue] at (axis cs:225.9,1.13710) {1.13775};
\node[text=labblue] at (axis cs:235.9,1.14062) {1.14130};
\node[text=labblue] at (axis cs:248.9,1.14812) {1.14880};
\node[text=labblue] at (axis cs:272.9,1.15052) {1.15115};
\node[text=labblue] at (axis cs:291.9,1.14179) {1.14245};
\node[text=labblue] at (axis cs:298.9,1.14009) {1.14075};
\node[text=labblue] at (axis cs:310.9,1.13827) {1.13890};
\node[text=labblue] at (axis cs:323.8,1.13318) {1.13375};
\node[text=labblue] at (axis cs:333.8,1.14314) {1.14375};
\node[text=labblue] at (axis cs:341.9,1.14513) {1.14575};
\node[text=labblue] at (axis cs:347.9,1.14443) {1.14510};
\node[text=labblue] at (axis cs:357.9,1.14701) {1.14760};
\node[text=labblue] at (axis cs:383.9,1.13529) {1.13590};
\end{scope}
\begin{scope}[every node/.style={font=\magfont, inner sep=0pt, text=labmag}]
\node at (axis cs:277.1,1.15603) {HH};
\node at (axis cs:272.9,1.15081) {LL};
\node at (axis cs:284.9,1.14870) {LH};
\node at (axis cs:280.9,1.14378) {LL};
\node at (axis cs:297.9,1.14706) {LH};
\node at (axis cs:291.9,1.14167) {LL};
\node at (axis cs:298.6,1.14044) {LL};
\node at (axis cs:302.9,1.14495) {LH};
\node at (axis cs:310.9,1.13857) {LL};
\node at (axis cs:317.6,1.14525) {LH};
\node at (axis cs:323.8,1.13294) {LL};
\end{scope}
% right-edge level tags
\begin{scope}[every node/.style={font=\rfont, inner sep=0pt, anchor=west}]
\node[text=lvlorange] at (axis cs:397.8,1.15595) {1.15595 4};
\node[text=lvlred] at (axis cs:397.8,1.14845) {1.14845 3};
\node[text=lvlorange2] at (axis cs:397.8,1.14095) {1.14095 1};
\node[text=dotblue] at (axis cs:403.6,1.13351) {1.13351};
\end{scope}
% clock
\node[fill=white, inner sep=1pt, font=\bfseries\fontsize{7.7}{8}\selectfont] at (axis cs:189.7,1.15992) {2:18:47};
\end{axis}

\pgfresetboundingbox
\useasboundingbox (0,0) rectangle (1418.5pt,513.5pt);
\end{tikzpicture}
\end{document}
